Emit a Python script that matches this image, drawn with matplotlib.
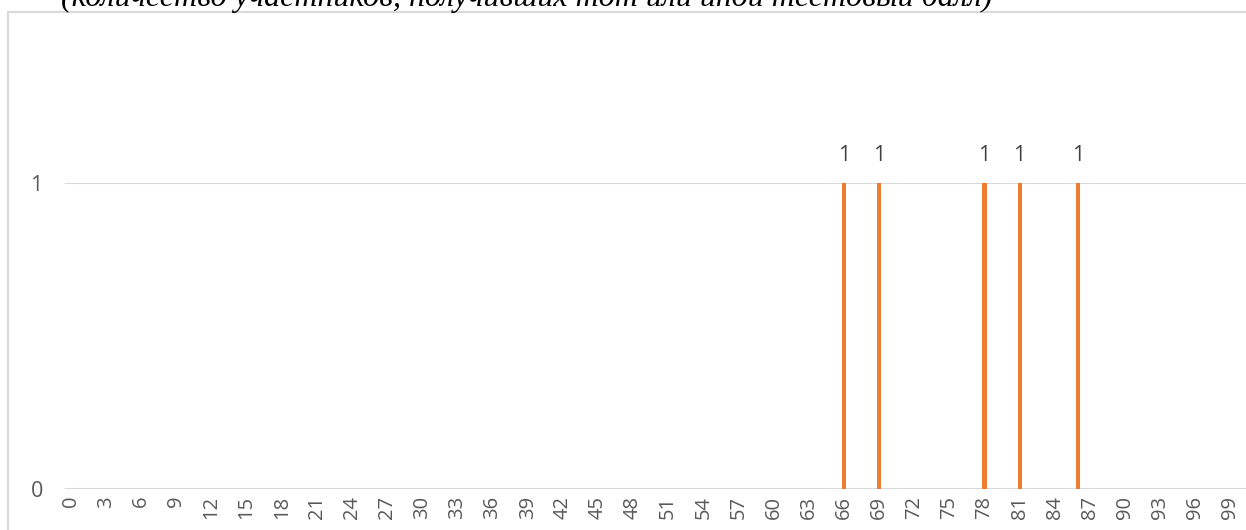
import numpy as np
import matplotlib.pyplot as plt
from matplotlib.patches import Rectangle

# scores 0..100 and number of participants per score
scores = list(range(0, 101))
hit_scores = [66, 69, 78, 81, 86]
counts = [1 if s in hit_scores else 0 for s in scores]
tick_labels = [str(s) for s in range(0, 100, 3)]
title = "(количество участников, получивших тот или иной тестовый балл)"

fig = plt.figure(figsize=(12.46, 5.30), dpi=100)
W, H = 1246, 530

# chart border (like an office chart frame)
fig.patches.append(Rectangle((8 / W, -0.1), 1.2, 1 - 12 / H + 0.1, transform=fig.transFigure,
                             fill=False, edgecolor='#D9D9D9', linewidth=1.5))

fig.text(527 / W, 1 - 6 / H, title, ha='center', va='baseline', fontsize=23,
         family='Liberation Serif', style='italic', color='black')

ax = fig.add_axes([65 / W, 1 - 489 / H, (1248 - 65) / W, (489 - 183) / H])
ax.bar(scores, counts, width=0.35, color='#ED7D31', zorder=3)
for s, c in zip(scores, counts):
    if c > 0:
        ax.text(s, c + 0.055, str(c), ha='center', va='bottom', fontsize=15.5,
                color='#404040', family='Open Sans')

ax.set_xlim(-0.5, 100.5)
ax.set_ylim(0, 1)
ax.set_yticks([0, 1])
ax.set_xticks(range(0, 100, 3))
ax.set_xticklabels(tick_labels, rotation=90, fontsize=14.5, color='#595959', family='Open Sans')
for lab in ax.get_yticklabels():
    lab.set_fontsize(15.5)
    lab.set_color('#595959')
    lab.set_family('Open Sans')
ax.tick_params(length=0)
ax.tick_params(axis='x', pad=5)
ax.tick_params(axis='y', pad=16)
ax.grid(axis='y', color='#D9D9D9', linewidth=1.5, zorder=0)
for sp in ax.spines.values():
    sp.set_visible(False)

fig.savefig('out.png', dpi=100)
